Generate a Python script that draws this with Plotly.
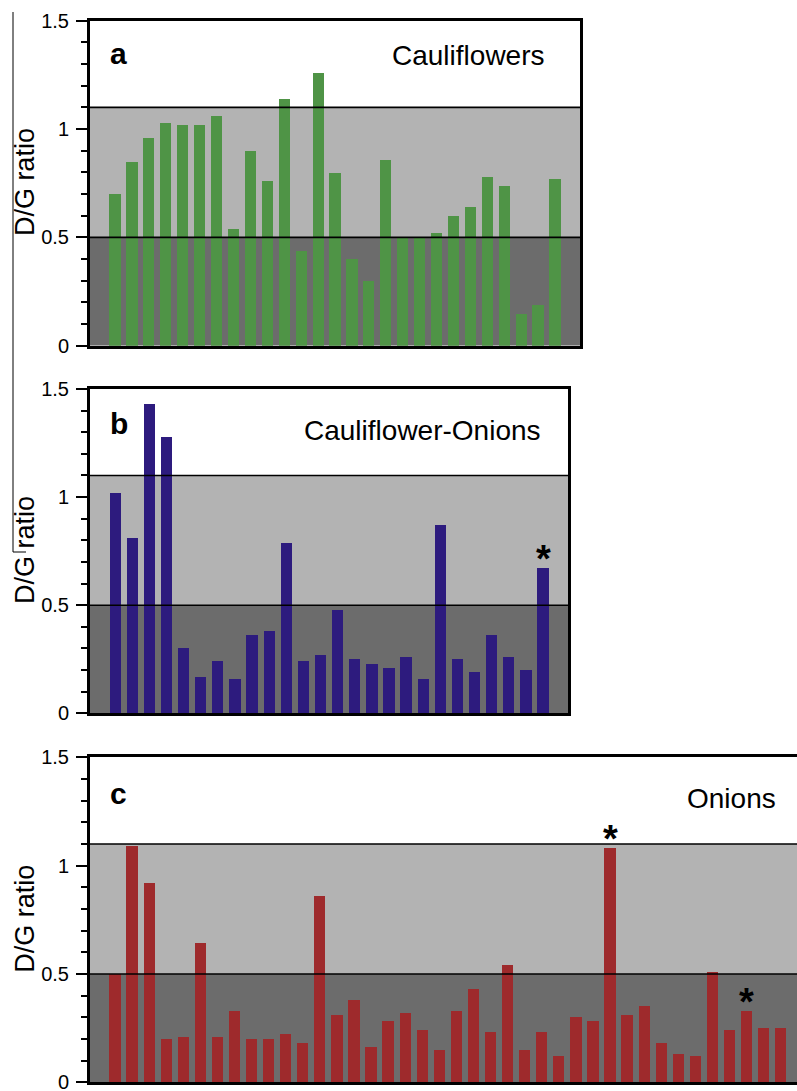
import plotly.graph_objects as go
import numpy as np

# ---------------- data ----------------
cauliflowers = [0.70, 0.85, 0.96, 1.03, 1.02, 1.02, 1.06, 0.54, 0.90, 0.76, 1.14, 0.44,
                1.26, 0.80, 0.40, 0.30, 0.86, 0.505, 0.50, 0.52, 0.60, 0.64, 0.78, 0.74,
                0.15, 0.19, 0.77]
cauliflower_onions = [1.02, 0.81, 1.43, 1.28, 0.30, 0.17, 0.24, 0.16, 0.36, 0.38, 0.79,
                      0.24, 0.27, 0.48, 0.25, 0.23, 0.21, 0.26, 0.16, 0.87, 0.25, 0.19,
                      0.36, 0.26, 0.20, 0.67]
onions = [0.50, 1.09, 0.92, 0.20, 0.21, 0.64, 0.21, 0.33, 0.20, 0.20, 0.22, 0.18, 0.86,
          0.31, 0.38, 0.16, 0.28, 0.32, 0.24, 0.15, 0.33, 0.43, 0.23, 0.54, 0.15, 0.23,
          0.12, 0.30, 0.28, 1.08, 0.31, 0.35, 0.18, 0.13, 0.12, 0.51, 0.24, 0.33, 0.25,
          0.25]
starred_b = [25]
starred_c = [29, 37]

panel_letters = ["a", "b", "c"]
panel_titles = ["Cauliflowers", "Cauliflower-Onions", "Onions"]
tick_vals = [0, 0.5, 1, 1.5]
tick_text = ["0", "0.5", "1", "1.5"]
lower_band = 0.5
upper_band = 1.1

# ---------------- layout constants ----------------
W, H = 797, 1091
FONT = "Liberation Sans, Arial, Helvetica, sans-serif"
DARK = "#6c6c6c"
LIGHT = "#b3b3b3"
colors = ["#4f9446", "#2d1b7e", "#9e2a2c"]

def px_x(p):
    return p / W

def px_y(p):
    return 1 - p / H

panels = [
    dict(vals=cauliflowers, xdom=(90, 580), ydom=(20.7, 345.7), xr=(-1.48, 27.48),
         mirror_right=True, title_x=547, title_y=1.34, letter_y=1.35, star=[]),
    dict(vals=cauliflower_onions, xdom=(90, 568), ydom=(389, 713.3), xr=(-1.47, 26.46),
         mirror_right=True, title_x=543, title_y=1.31, letter_y=1.34, star=starred_b),
    dict(vals=onions, xdom=(90, 797), ydom=(757.3, 1082.3), xr=(-1.465, 39.955),
         mirror_right=False, title_x=778, title_y=1.31, letter_y=1.335, star=starred_c),
]

fig = go.Figure()
shapes = []
annotations = []

for i, p in enumerate(panels):
    n = i + 1
    sfx = "" if n == 1 else str(n)
    xa, ya = "x" + sfx, "y" + sfx
    xs = np.arange(len(p["vals"]))
    fig.add_trace(go.Bar(x=xs, y=p["vals"], xaxis=xa, yaxis=ya, width=0.66,
                         marker=dict(color=colors[i], line=dict(width=0)),
                         showlegend=False, hoverinfo="y"))

    fig.layout["xaxis" + sfx] = dict(
        domain=[px_x(p["xdom"][0]), px_x(p["xdom"][1])], range=list(p["xr"]),
        anchor=ya, showticklabels=False, ticks="", showgrid=False, zeroline=False,
        showline=True, linecolor="black", linewidth=3, mirror=True, automargin=False)
    fig.layout["yaxis" + sfx] = dict(
        domain=[px_y(p["ydom"][1]), px_y(p["ydom"][0])], range=[0, 1.5],
        anchor=xa, tickvals=tick_vals, ticktext=tick_text, ticks="outside",
        ticklen=11, tickwidth=2, tickcolor="black", ticklabelstandoff=3,
        ticklabeloverflow="allow",
        tickfont=dict(family=FONT, size=20, color="black"),
        minor=dict(dtick=0.1, ticks="outside", ticklen=6, tickwidth=2, tickcolor="black"),
        showgrid=False, zeroline=False, showline=True, linecolor="black", linewidth=3,
        mirror=p["mirror_right"], automargin=False)

    xd = xa + " domain"
    shapes.append(dict(type="rect", xref=xd, yref=ya, x0=0, x1=1, y0=0, y1=lower_band,
                       fillcolor=DARK, line=dict(width=0), layer="below"))
    shapes.append(dict(type="rect", xref=xd, yref=ya, x0=0, x1=1, y0=lower_band,
                       y1=upper_band, fillcolor=LIGHT, line=dict(width=0), layer="below"))
    for yv in (lower_band, upper_band):
        shapes.append(dict(type="line", xref=xd, yref=ya, x0=0, x1=1, y0=yv, y1=yv,
                           line=dict(color="black", width=1.6), layer="above"))

    annotations.append(dict(text="<b>%s</b>" % panel_letters[i], xref="paper", yref=ya,
                            x=px_x(108), y=p["letter_y"], xanchor="left", yanchor="middle",
                            showarrow=False, font=dict(family=FONT, size=30, color="black")))
    annotations.append(dict(text=panel_titles[i], xref="paper", yref=ya,
                            x=px_x(p["title_x"]), y=p["title_y"], xanchor="right",
                            yanchor="middle", showarrow=False,
                            font=dict(family=FONT, size=28, color="black")))
    annotations.append(dict(text="D/G ratio", xref="paper", yref=ya, x=px_x(25), y=0.755,
                            xanchor="center", yanchor="middle", textangle=-90,
                            showarrow=False, font=dict(family=FONT, size=27, color="black")))
    for k in p["star"]:
        annotations.append(dict(text="<b>*</b>", xref=xa, yref=ya, x=int(xs[k]),
                                y=p["vals"][k], xanchor="center", yanchor="bottom",
                                yshift=-14, showarrow=False,
                                font=dict(family=FONT, size=38, color="black")))

# scan artefact lines at the left edge
shapes.append(dict(type="line", xref="paper", yref="paper", x0=px_x(13), x1=px_x(13),
                   y0=px_y(12), y1=px_y(552), line=dict(color="black", width=1)))
shapes.append(dict(type="line", xref="paper", yref="paper", x0=px_x(13), x1=px_x(26),
                   y0=px_y(552), y1=px_y(552), line=dict(color="black", width=1)))

fig.update_layout(width=W, height=H, margin=dict(l=0, r=0, t=0, b=0, autoexpand=False),
                  paper_bgcolor="white", plot_bgcolor="white",
                  shapes=shapes, annotations=annotations, bargap=0)

fig.write_html("out.html")
